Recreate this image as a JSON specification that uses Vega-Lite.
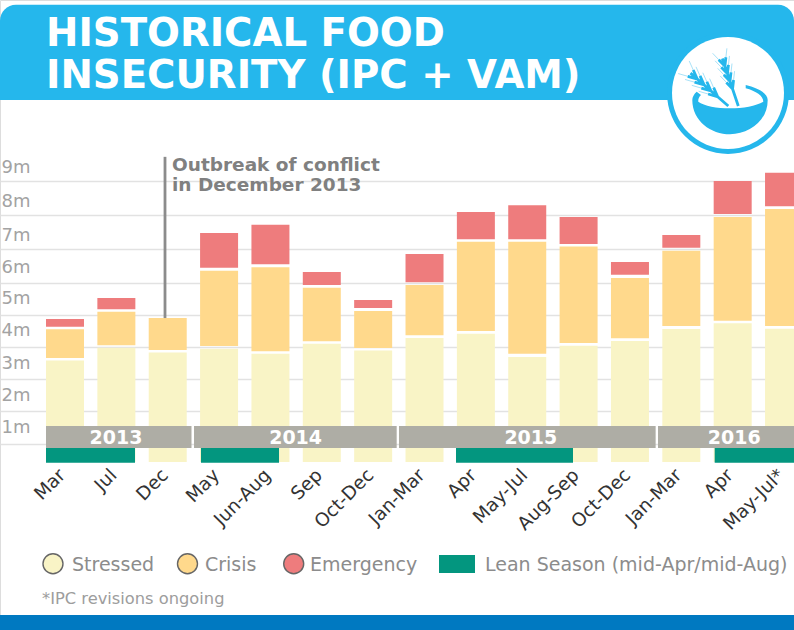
{
"$schema":"https://vega.github.io/schema/vega-lite/v6.json",
"width":794,"height":630,"padding":0,"autosize":"none","background":"#ffffff",
"datasets":{
"bars":[
{"i":0,"period":"Mar","year":2013,"status":"Stressed","low":0.43,"v":3.57},{"i":0,"period":"Mar","year":2013,"status":"Crisis","low":3.65,"v":4.54},{"i":0,"period":"Mar","year":2013,"status":"Emergency","low":4.62,"v":4.86},
{"i":1,"period":"Jul","year":2013,"status":"Stressed","low":0.43,"v":3.97},{"i":1,"period":"Jul","year":2013,"status":"Crisis","low":4.05,"v":5.09},{"i":1,"period":"Jul","year":2013,"status":"Emergency","low":5.17,"v":5.52},
{"i":2,"period":"Dec","year":2013,"status":"Stressed","low":0.43,"v":3.82},{"i":2,"period":"Dec","year":2013,"status":"Crisis","low":3.9,"v":4.89},
{"i":3,"period":"May","year":2014,"status":"Stressed","low":0.43,"v":3.94},{"i":3,"period":"May","year":2014,"status":"Crisis","low":4.02,"v":6.36},{"i":3,"period":"May","year":2014,"status":"Emergency","low":6.45,"v":7.47},
{"i":4,"period":"Jun-Aug","year":2014,"status":"Stressed","low":0.43,"v":3.78},{"i":4,"period":"Jun-Aug","year":2014,"status":"Crisis","low":3.86,"v":6.46},{"i":4,"period":"Jun-Aug","year":2014,"status":"Emergency","low":6.55,"v":7.71},
{"i":5,"period":"Sep","year":2014,"status":"Stressed","low":0.43,"v":4.09},{"i":5,"period":"Sep","year":2014,"status":"Crisis","low":4.17,"v":5.85},{"i":5,"period":"Sep","year":2014,"status":"Emergency","low":5.94,"v":6.32},
{"i":6,"period":"Oct-Dec","year":2014,"status":"Stressed","low":0.43,"v":3.88},{"i":6,"period":"Oct-Dec","year":2014,"status":"Crisis","low":3.96,"v":5.11},{"i":6,"period":"Oct-Dec","year":2014,"status":"Emergency","low":5.21,"v":5.46},
{"i":7,"period":"Jan-Mar","year":2015,"status":"Stressed","low":0.43,"v":4.27},{"i":7,"period":"Jan-Mar","year":2015,"status":"Crisis","low":4.36,"v":5.94},{"i":7,"period":"Jan-Mar","year":2015,"status":"Emergency","low":6.02,"v":6.85},
{"i":8,"period":"Apr","year":2015,"status":"Stressed","low":0.43,"v":4.4},{"i":8,"period":"Apr","year":2015,"status":"Crisis","low":4.49,"v":7.21},{"i":8,"period":"Apr","year":2015,"status":"Emergency","low":7.29,"v":8.09},
{"i":9,"period":"May-Jul","year":2015,"status":"Stressed","low":0.43,"v":3.68},{"i":9,"period":"May-Jul","year":2015,"status":"Crisis","low":3.78,"v":7.21},{"i":9,"period":"May-Jul","year":2015,"status":"Emergency","low":7.29,"v":8.29},
{"i":10,"period":"Aug-Sep","year":2015,"status":"Stressed","low":0.43,"v":4.03},{"i":10,"period":"Aug-Sep","year":2015,"status":"Crisis","low":4.12,"v":7.07},{"i":10,"period":"Aug-Sep","year":2015,"status":"Emergency","low":7.15,"v":7.94},
{"i":11,"period":"Oct-Dec","year":2015,"status":"Stressed","low":0.43,"v":4.18},{"i":11,"period":"Oct-Dec","year":2015,"status":"Crisis","low":4.26,"v":6.15},{"i":11,"period":"Oct-Dec","year":2015,"status":"Emergency","low":6.24,"v":6.62},
{"i":12,"period":"Jan-Mar","year":2016,"status":"Stressed","low":0.43,"v":4.55},{"i":12,"period":"Jan-Mar","year":2016,"status":"Crisis","low":4.64,"v":6.95},{"i":12,"period":"Jan-Mar","year":2016,"status":"Emergency","low":7.04,"v":7.41},
{"i":13,"period":"Apr","year":2016,"status":"Stressed","low":0.43,"v":4.73},{"i":13,"period":"Apr","year":2016,"status":"Crisis","low":4.81,"v":7.94},{"i":13,"period":"Apr","year":2016,"status":"Emergency","low":8.03,"v":9.0},
{"i":14,"period":"May-Jul*","year":2016,"status":"Stressed","low":0.43,"v":4.56},{"i":14,"period":"May-Jul*","year":2016,"status":"Crisis","low":4.64,"v":8.18},{"i":14,"period":"May-Jul*","year":2016,"status":"Emergency","low":8.26,"v":9.24}
],
"periods":[
{"i":0,"v":0.2,"t":"Mar"},{"i":1,"v":0.2,"t":"Jul"},{"i":2,"v":0.2,"t":"Dec"},{"i":3,"v":0.2,"t":"May"},{"i":4,"v":0.2,"t":"Jun-Aug"},{"i":5,"v":0.2,"t":"Sep"},{"i":6,"v":0.2,"t":"Oct-Dec"},{"i":7,"v":0.2,"t":"Jan-Mar"},{"i":8,"v":0.2,"t":"Apr"},{"i":9,"v":0.2,"t":"May-Jul"},{"i":10,"v":0.2,"t":"Aug-Sep"},{"i":11,"v":0.2,"t":"Oct-Dec"},{"i":12,"v":0.2,"t":"Jan-Mar"},{"i":13,"v":0.2,"t":"Apr"},{"i":14,"v":0.2,"t":"May-Jul*"}
],
"years":[
{"i":-0.37,"iEnd":2.463,"v":1.54,"low":0.86},
{"i":2.512,"iEnd":6.458,"v":1.54,"low":0.86},
{"i":6.503,"iEnd":11.5,"v":1.54,"low":0.86},
{"i":11.546,"iEnd":14.37,"v":1.54,"low":0.86}
],
"yearLabels":[
{"i":0.993,"v":1.17,"t":"2013"},{"i":4.49,"v":1.17,"t":"2014"},{"i":9.07,"v":1.17,"t":"2015"},{"i":13.03,"v":1.17,"t":"2016"}
],
"lean":[
{"i":-0.37,"iEnd":1.363,"v":0.86,"low":0.4},
{"i":2.648,"iEnd":4.167,"v":0.86,"low":0.4},
{"i":7.613,"iEnd":9.891,"v":0.86,"low":0.4},
{"i":12.65,"iEnd":14.37,"v":0.86,"low":0.4}
],
"icon":[{"i":12.909,"v":11.588}]
},
"encoding":{
"x":{"field":"i","type":"quantitative","axis":null,"scale":{"domain":[-1.2656,14.194],"range":[0,794],"nice":false,"zero":false,"padding":0}},
"y":{"field":"v","type":"quantitative","scale":{"domain":[-4.783,1,5,6,9,14.32],"range":[630,443.5,314.5,283,181,0],"nice":false,"zero":false,"padding":0},
 "axis":{"values":[1,2,3,4,5,6,7,8,9],"title":null,"domain":false,"ticks":false,"grid":true,"gridColor":"#e2e2e2","gridWidth":1.6,"labelExpr":"datum.value+'m'","labelAlign":"left","labelBaseline":"middle","labelPadding":-1,"labelFont":"DejaVu Sans","labelFontSize":18,"labelColor":"#a3a3a3","labelBound":false,"labelFlush":false,"labelOverlap":false,
 "labelOffset":{"condition":{"test":"datum.value<=6","value":-16},"value":-13.5}}}
},
"layer":[
{"data":{"values":[{"i":-1.2656,"iEnd":14.194,"v":14.18,"low":11.38}]},
 "mark":{"type":"rect","color":"#25b7ec","cornerRadiusTopLeft":16,"cornerRadiusTopRight":16},
 "encoding":{"x2":{"field":"iEnd"},"y2":{"field":"low"}}},
{"data":{"values":[{"i":-1.2656,"iEnd":14.194,"v":-4.32,"low":-4.783}]},
 "mark":{"type":"rect","color":"#0079c1"},"encoding":{"x2":{"field":"iEnd"},"y2":{"field":"low"}}},
{"data":{"name":"icon"},"mark":{"type":"point","shape":"circle","filled":true,"size":14884,"color":"#25b7ec","opacity":1}},
{"data":{"name":"icon"},"mark":{"type":"point","shape":"circle","filled":true,"size":12544,"color":"#ffffff","opacity":1}},
{"data":{"name":"icon"},"mark":{"type":"point","filled":false,"size":4,"opacity":1,"stroke":"#a9e2f8","strokeWidth":1,
 "shape":"M-10.3,3.8 L-18.4,-14.3 M-10.3,3.8 L-29.4,-1.7 M-17.1,-2.1 L-25.2,-20.2 M-17.1,-2.1 L-36.2,-7.6 M-23.9,-8 L-32,-26.1 M-23.9,-8 L-43,-13.5 M-30.7,-13.9 L-38.8,-32 M-30.7,-13.9 L-49.8,-19.4 M4.56,-4.06 L6.56,-21.8 M4.56,-4.06 L-7.8,-17 M2,-11.65 L4,-29.4 M2,-11.65 L-10.3,-24.6 M-0.55,-19.23 L1.45,-37 M-0.55,-19.23 L-12.9,-32.1 M-3.1,-26.8 L-1.1,-44.6 M-3.1,-26.8 L-15.4,-39.7"}},
{"data":{"name":"icon"},"mark":{"type":"point","filled":false,"size":4,"opacity":1,"stroke":"#25b7ec","strokeWidth":2.8,
 "shape":"M0.3,13 L-37.5,-19.8 M-14.35,-5.27 L-10.3,3.8 L-19.85,1.07 M-21.15,-11.17 L-17.1,-2.1 L-26.65,-4.83 M-27.95,-17.07 L-23.9,-8 L-33.45,-10.73 M-34.75,-22.97 L-30.7,-13.9 L-40.25,-16.63 M10.3,13 L-5.65,-34.4 M5.56,-12.94 L4.56,-4.06 L-1.61,-10.53 M3,-20.53 L2,-11.65 L-4.17,-18.12 M0.45,-28.11 L-0.55,-19.23 L-6.72,-25.7 M-2.1,-35.68 L-3.1,-26.8 L-9.27,-33.27"}},
{"data":{"name":"icon"},"mark":{"type":"point","filled":true,"size":4,"opacity":1,"color":"#25b7ec",
 "shape":"M-35.7,7 C-35.7,28 -17,41.3 2,41.3 C21,41.3 39.7,28 39.7,7 C39.7,0 30,-5 17.7,-8 L17.7,-4.7 C28,-2 35.3,3 35.3,8.7 C28,13 15,15.3 2,15.3 C-11,15.3 -24,13 -29.7,8.7 C-30,6 -29,4 -27,2 L-31.3,-1.3 C-34,1 -35.7,4 -35.7,7 Z"}},
{"data":{"values":[{"i":-0.37,"v":13.31,"t":"HISTORICAL FOOD"},{"i":-0.37,"v":12.09,"t":"INSECURITY (IPC + VAM)"}]},
 "mark":{"type":"text","align":"left","baseline":"middle","font":"DejaVu Sans","fontWeight":"bold","fontSize":38.7,"color":"#ffffff"},
 "encoding":{"text":{"field":"t"}}},
{"data":{"name":"bars"},"mark":{"type":"bar","width":38,"orient":"vertical"},
 "encoding":{"y2":{"field":"low"},
  "color":{"field":"status","type":"nominal","legend":null,"scale":{"domain":["Stressed","Crisis","Emergency"],"range":["#f9f4c6","#ffd98c","#ee7c7d"]}}}},
{"data":{"name":"years"},"mark":{"type":"rect","color":"#aeada5"},"encoding":{"x2":{"field":"iEnd"},"y2":{"field":"low"}}},
{"data":{"name":"yearLabels"},"mark":{"type":"text","align":"center","baseline":"middle","font":"DejaVu Sans","fontWeight":"bold","fontSize":19,"color":"#ffffff"},
 "encoding":{"text":{"field":"t"}}},
{"data":{"name":"lean"},"mark":{"type":"rect","color":"#03967f"},"encoding":{"x2":{"field":"iEnd"},"y2":{"field":"low"}}},
{"data":{"values":[{"i":1.947,"v":9.71,"low":4.89}]},"mark":{"type":"rule","color":"#8c8c8c","strokeWidth":2.8},"encoding":{"y2":{"field":"low"}}},
{"data":{"values":[{"i":2.083,"v":9.47,"t":"Outbreak of conflict"},{"i":2.083,"v":8.88,"t":"in December 2013"}]},
 "mark":{"type":"text","align":"left","baseline":"middle","font":"DejaVu Sans","fontWeight":"bold","fontSize":18.5,"color":"#808080"},
 "encoding":{"text":{"field":"t"}}},
{"data":{"name":"periods"},"mark":{"type":"text","align":"right","baseline":"middle","angle":315,"dx":-4,"font":"DejaVu Sans","fontSize":18.5,"color":"#333333"},
 "encoding":{"text":{"field":"t"}}},
{"data":{"values":[{"i":-0.234,"v":-2.73,"c":"Stressed"},{"i":2.385,"v":-2.73,"c":"Crisis"},{"i":4.453,"v":-2.73,"c":"Emergency"}]},
 "mark":{"type":"point","shape":"circle","filled":true,"size":400,"opacity":1,"stroke":"#666666","strokeWidth":1.4},
 "encoding":{"fill":{"field":"c","type":"nominal","legend":null,"scale":{"domain":["Stressed","Crisis","Emergency"],"range":["#f9f4c6","#ffd98c","#ee7c7d"]}}}},
{"data":{"values":[{"i":7.282,"iEnd":7.983,"v":-2.457,"low":-3.016}]},"mark":{"type":"rect","color":"#03967f"},"encoding":{"x2":{"field":"iEnd"},"y2":{"field":"low"}}},
{"data":{"values":[{"i":0.136,"v":-2.77,"t":"Stressed"},{"i":2.726,"v":-2.77,"t":"Crisis"},{"i":4.77,"v":-2.77,"t":"Emergency"},{"i":8.178,"v":-2.77,"t":"Lean Season (mid-Apr/mid-Aug)"}]},
 "mark":{"type":"text","align":"left","baseline":"middle","font":"DejaVu Sans","fontSize":19,"color":"#8c8c8c"},"encoding":{"text":{"field":"t"}}},
{"data":{"values":[{"i":-0.448,"v":-3.82,"t":"*IPC revisions ongoing"}]},
 "mark":{"type":"text","align":"left","baseline":"middle","font":"DejaVu Sans","fontSize":16.3,"color":"#9d9d9d"},"encoding":{"text":{"field":"t"}}}
]
}
